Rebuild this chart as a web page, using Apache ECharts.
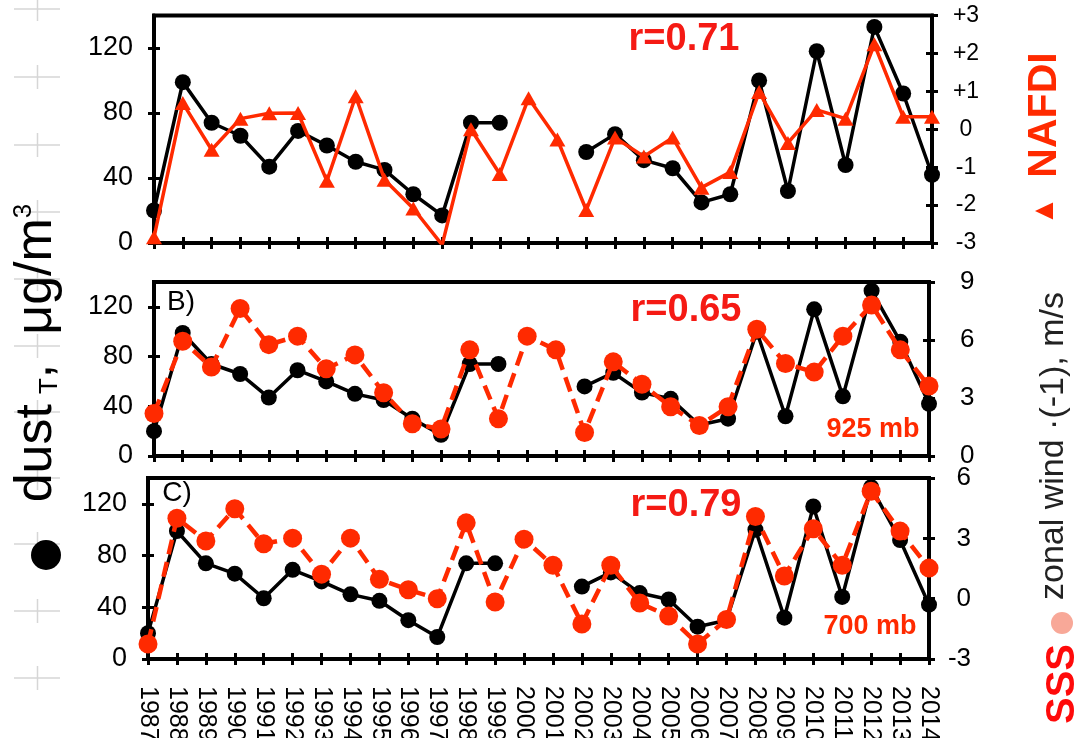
<!DOCTYPE html>
<html><head><meta charset="utf-8">
<script src="https://cdn.jsdelivr.net/npm/echarts@6/dist/echarts.min.js"></script>
<style>html,body{margin:0;padding:0;background:#fff}#c{width:1081px;height:738px}</style>
</head><body><div id="c"></div>
<script>
// ---- data ----
const years = ['1987','1988','1989','1990','1991','1992','1993','1994','1995','1996','1997','1998','1999','2000',
  '2001','2002','2003','2004','2005','2006','2007','2008','2009','2010','2011','2012','2013','2014'];
const dust = [20,99,74,66,47,69,60,50,45,30,17,74,74,null,null,56,67,51,46,25,30,100,32,118,48,133,92,42];
const nafdi = [-2.85,0.69,-0.54,0.28,0.42,0.43,-1.36,0.87,-1.33,-2.09,-3.05,0.0,-1.18,0.82,
  -0.27,-2.13,-0.22,-0.72,-0.22,-1.54,-1.13,0.98,-0.36,0.51,0.28,2.24,0.33,0.33];
const wind925 = [2.2,5.94,4.6,7.63,5.76,6.2,4.51,5.23,3.27,1.67,1.4,5.49,1.93,6.2,
  5.49,1.22,4.87,3.71,2.55,1.58,2.55,6.56,4.78,4.34,6.2,7.81,5.49,3.62];
const wind700 = [-2.25,4.0,2.87,4.47,2.73,3.01,1.22,3.01,0.96,0.44,0.0,3.77,-0.17,2.96,
  1.66,-1.26,1.66,-0.22,-0.86,-2.25,-1.04,4.09,1.13,3.48,1.66,5.34,3.36,1.52];
const dustTicks = [0, 40, 80, 120];
const nafdiTicks = [-3, -2, -1, 0, 1, 2, 3];
const windTicksB = [0, 3, 6, 9];
const windTicksC = [-3, 0, 3, 6];
const rLabels = ['r=0.71', 'r=0.65', 'r=0.79'];
const levelLabels = ['925 mb', '700 mb'];
const panelLabels = ['B)', 'C)'];

// ---- layout / style ----
const FONT = '"Liberation Sans", Arial, Helvetica, sans-serif';
const RED = '#ff2a00';
const panels = [
  { grid: {left:154, top:15.5, width:778, height:227.5},
    right: {ticks:nafdiTicks, fontSize:23, align:'center', margin:34, fmt: v => v > 0 ? '+' + v : String(v)},
    red: nafdi, symbol:'triangle', symbolSize:[16,14], dashed:false },
  { grid: {left:154, top:282, width:775, height:174},
    right: {ticks:windTicksB, fontSize:26, align:'left', margin:31, fmt: v => String(v)},
    red: wind925, symbol:'circle', symbolSize:19, dashed:true },
  { grid: {left:148, top:478, width:781, height:181},
    right: {ticks:windTicksC, fontSize:26, align:'right', margin:42, fmt: v => String(v)},
    red: wind700, symbol:'circle', symbolSize:19, dashed:true }
];

const grids = [], xAxes = [], yAxes = [], series = [];
const tickStyle = {color:'#000', width:3};
const lineStyle = {color:'#000', width:4};

panels.forEach((p, i) => {
  grids.push(Object.assign({show:true, borderColor:'#000', borderWidth:4, backgroundColor:'transparent', outerBoundsMode:'none', containLabel:false}, p.grid));
});
panels.forEach((p, i) => {
  grids.push(Object.assign({show:false, outerBoundsMode:'none', containLabel:false}, p.grid));
});

panels.forEach((p, i) => {
  xAxes.push({
    type:'category', gridIndex:i, data:years, boundaryGap:false,
    axisLine:{show:true, onZero:false, lineStyle},
    axisTick:{show:true, inside:false, length:6, interval:0, lineStyle:tickStyle},
    axisLabel: i === 2 ? {show:true, interval:0, rotate:-90, fontSize:25, color:'#000', margin:27, fontFamily:FONT} : {show:false},
    splitLine:{show:false}
  });
});
panels.forEach((p, i) => {
  xAxes.push({
    type:'category', gridIndex:3 + i, data:years, boundaryGap:false,
    axisLine:{show:false, onZero:false},
    axisTick:{show:true, inside:true, length:6, interval:0, lineStyle:tickStyle},
    axisLabel:{show:false}, splitLine:{show:false}
  });
});

function leftAxis(g, inside) {
  return {
    type:'value', gridIndex:g, position:'left', min:0, max:140, interval:40,
    axisLine:{show:!inside, onZero:false, lineStyle},
    axisTick:{show:true, inside:inside, length:6, customValues:dustTicks, lineStyle:tickStyle},
    axisLabel: inside ? {show:false} : {show:true, customValues:dustTicks, fontSize:27, color:'#000', margin:21, fontFamily:FONT,
      formatter: v => (v > 120 ? '' : String(v))},
    splitLine:{show:false}
  };
}
function rightAxis(g, r, inside) {
  const t = r.ticks;
  return {
    type:'value', gridIndex:g, position:'right', min:t[0], max:t[t.length-1], interval:t[1]-t[0],
    axisLine:{show:!inside, onZero:false, lineStyle},
    axisTick:{show:true, inside:inside, length:6, lineStyle:tickStyle},
    axisLabel: inside ? {show:false} : {show:true, fontSize:r.fontSize, color:'#000', margin:r.margin, align:r.align, fontFamily:FONT, formatter:r.fmt},
    splitLine:{show:false}
  };
}
panels.forEach((p, i) => { yAxes.push(leftAxis(i, false)); yAxes.push(rightAxis(i, p.right, false)); });
panels.forEach((p, i) => { yAxes.push(leftAxis(3 + i, true)); yAxes.push(rightAxis(3 + i, p.right, true)); });

panels.forEach((p, i) => {
  series.push({
    type:'line', xAxisIndex:i, yAxisIndex:2*i, data:dust, connectNulls:false,
    symbol:'circle', symbolSize:16, showSymbol:true, showAllSymbol:true,
    itemStyle:{color:'#000'}, lineStyle:{color:'#000', width:3.5}, z:3, silent:true
  });
  series.push({
    type:'line', xAxisIndex:i, yAxisIndex:2*i+1, data:p.red, connectNulls:true,
    symbol:p.symbol, symbolSize:p.symbolSize, showSymbol:true, showAllSymbol:true,
    itemStyle:{color:RED}, lineStyle:{color:RED, width:p.dashed ? 4.5 : 3.5, type:p.dashed ? [15, 8] : 'solid'}, z:4, silent:true
  });
});

// ---- annotations ----
const graphic = [];
[9, 77, 145, 212, 279, 346, 412, 478, 544, 611, 678].forEach(cy => {
  graphic.push({type:'line', z:-1, shape:{x1:14, y1:cy, x2:60, y2:cy}, style:{stroke:'#d6d6d6', lineWidth:1.5}});
  graphic.push({type:'line', z:-1, shape:{x1:37.5, y1:cy-12, x2:37.5, y2:cy+12}, style:{stroke:'#d6d6d6', lineWidth:1.5}});
});
function txt(text, x, y, size, weight, color, rot) {
  return {type:'text', x, y, rotation: rot || 0, z:10,
    style:{text, fill:color, fontSize:size, fontWeight:weight, fontFamily:FONT, align:'center', verticalAlign:'middle'}};
}
graphic.push(txt(rLabels[0], 684, 40, 38, 'bold', '#f51a14'));
graphic.push(txt(rLabels[1], 686, 311, 38, 'bold', '#f51a14'));
graphic.push(txt(rLabels[2], 686, 506, 38, 'bold', '#f51a14'));
graphic.push(txt(levelLabels[0], 873, 430, 27, 'bold', RED));
graphic.push(txt(levelLabels[1], 870, 627, 27, 'bold', RED));
graphic.push(txt(panelLabels[0], 181, 302, 28, 'normal', '#000'));
graphic.push(txt(panelLabels[1], 177, 493, 28, 'normal', '#000'));
// left axis title
graphic.push({type:'text', x:36.5, y:353, rotation:Math.PI/2, z:10,
  style:{text:'{b|dust}{s|T}{b|,  μg/m}{p|3}', align:'center', verticalAlign:'middle', fill:'#000',
    rich:{
      b:{fontSize:52, lineHeight:52, fontFamily:FONT, fill:'#000'},
      s:{fontSize:26, lineHeight:17, verticalAlign:'bottom', fontFamily:FONT, fill:'#000', padding:[0,0,0,10]},
      p:{fontSize:26, lineHeight:23, verticalAlign:'top', fontFamily:FONT, fill:'#000'}
    }}});
graphic.push({type:'circle', z:10, shape:{cx:46, cy:555, r:15}, style:{fill:'#000'}});
// right titles
graphic.push(txt('NAFDI', 1045, 115, 41, 'bold', RED, Math.PI/2));
graphic.push({type:'polygon', z:10, shape:{points:[[1035,211],[1053,202.5],[1053,219.5]]}, style:{fill:RED}});
graphic.push(txt('zonal wind ·(-1), m/s', 1054, 446, 34, 'normal', '#222', Math.PI/2));
graphic.push({type:'circle', z:10, shape:{cx:1062, cy:623, r:11}, style:{fill:'#f8a898'}});
graphic.push(txt('SSS', 1063, 684, 40, 'bold', '#ff0a0a', Math.PI/2));

const chart = echarts.init(document.getElementById('c'), null, {renderer:'canvas'});
chart.setOption({
  animation:false,
  backgroundColor:'#fff',
  textStyle:{fontFamily:FONT},
  grid:grids, xAxis:xAxes, yAxis:yAxes, series, graphic
});
</script></body></html>
